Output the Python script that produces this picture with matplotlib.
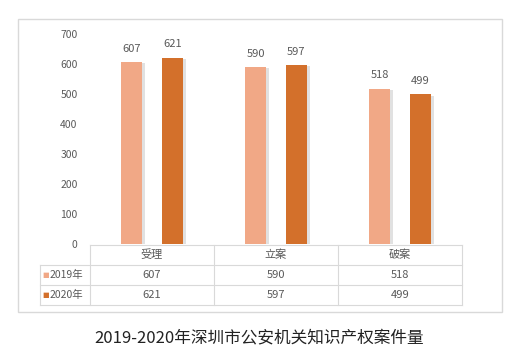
import matplotlib
matplotlib.use("Agg")
import matplotlib.pyplot as plt
import matplotlib.patheffects as pe
from matplotlib.patches import Rectangle

plt.rcParams['font.family'] = ['Noto Sans CJK SC', 'DejaVu Sans']

categories = ['受理', '立案', '破案']
series_names = ['2019年', '2020年']
values_2019 = [607, 590, 518]
values_2020 = [621, 597, 499]
y_ticks = [0, 100, 200, 300, 400, 500, 600, 700]
title = '2019-2020年深圳市公安机关知识产权案件量'

colors = ['#F1A886', '#D3702B']
grid_col = '#D9D9D9'
text_col = '#595959'

W, H = 525, 360


def main():
    fig = plt.figure(figsize=(W / 100, H / 100), dpi=100)
    fig.patch.set_facecolor('white')

    # outer chart frame
    fig.patches.append(Rectangle((18 / W, 1 - 312 / H), 484 / W, 293 / H,
                                 transform=fig.transFigure, fill=False,
                                 edgecolor=grid_col, linewidth=1))

    ax = fig.add_axes([90 / W, 116 / H, 372 / W, 210 / H])
    x = list(range(len(categories)))
    bw = 0.17
    off = 0.165
    shadow = [pe.SimplePatchShadow(offset=(2, -1), shadow_rgbFace='#C4C4C4', alpha=0.5), pe.Normal()]
    for vals, col, sign in [(values_2019, colors[0], -1), (values_2020, colors[1], 1)]:
        bars = ax.bar([i + sign * off for i in x], vals, width=bw, color=col, path_effects=shadow)
        ax.bar_label(bars, padding=6, fontsize=8, color=text_col)

    ax.set_xlim(-0.5, len(categories) - 0.5)
    ax.set_ylim(0, 700)
    ax.set_yticks(y_ticks)
    ax.tick_params(axis='y', length=0, pad=9, labelsize=7.5, labelcolor=text_col)
    ax.set_xticks([])
    for s in ax.spines.values():
        s.set_visible(False)

    # data table below the axes
    def ay(py):
        return (244 - py) / 210

    def ax_(px):
        return (px - 90) / 372

    lk = dict(color=grid_col, linewidth=0.8, transform=ax.transAxes, clip_on=False)
    ax.plot([0, 1], [ay(245), ay(245)], **lk)
    for py in (265, 285, 305):
        ax.plot([ax_(40), 1], [ay(py), ay(py)], **lk)
    for xb in [i - 0.5 for i in x] + [len(categories) - 0.5]:
        xa = (xb + 0.5) / len(categories)
        ax.plot([xa, xa], [ay(245), ay(305)], **lk)
    ax.plot([ax_(40), ax_(40)], [ay(265), ay(305)], **lk)

    for i, c in enumerate(categories):
        ax.text((i + 0.5) / len(categories), ay(255), c, transform=ax.transAxes,
                ha='center', va='center', fontsize=8, color=text_col)
    rows = [values_2019, values_2020]
    for r, (name, vals) in enumerate(zip(series_names, rows)):
        yc = ay(275 + 20 * r)
        ax.text(ax_(42), yc, '■', transform=ax.transAxes, ha='left', va='center',
                fontsize=5, color=colors[r], family='DejaVu Sans')
        ax.text(ax_(50), yc, name, transform=ax.transAxes, ha='left', va='center',
                fontsize=7.5, color=text_col)
        for i, v in enumerate(vals):
            ax.text((i + 0.5) / len(categories), yc, str(v), transform=ax.transAxes,
                    ha='center', va='center', fontsize=8, color=text_col)

    fig.text(259 / W, 1 - 338 / H, title, ha='center', va='center', fontsize=12, color='#222222')

    plt.savefig('out.png', dpi=100)


if __name__ == "__main__":
    main()
